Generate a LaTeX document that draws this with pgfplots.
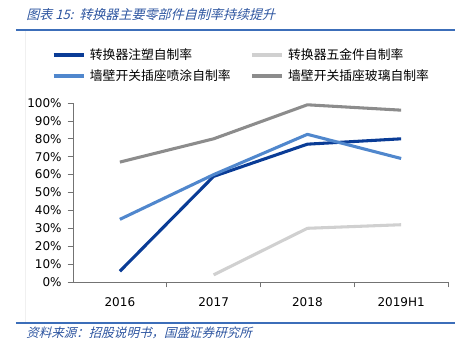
\documentclass[border=0pt]{standalone}
\usepackage{pgfplots}
\pgfplotsset{compat=1.18}
\usepackage{fontspec}
\setmainfont{DejaVu Sans}
\newfontfamily\cjk{Noto Sans CJK SC}
\newfontfamily\cjkit[FakeSlant=0.25]{Noto Sans CJK SC}
\definecolor{dblue}{RGB}{10,60,150}
\definecolor{mblue}{RGB}{80,135,205}
\definecolor{lgray}{RGB}{208,208,208}
\definecolor{mgray}{RGB}{140,140,140}
\definecolor{tblue}{RGB}{45,85,160}
\definecolor{rule}{RGB}{60,110,185}
\begin{document}
\begin{tikzpicture}
\begin{scope}[x=0.75pt,y=-0.75pt,shift={(-73,-282)}]
\path[use as bounding box] (0,0) rectangle (461,355);
\draw[rule,line width=1.5pt] (16,30) -- (455,30);
\draw[rule,line width=1.5pt] (16,323) -- (455,323);
\draw[black!6,line width=0.5pt] (25,31) -- (25,322);
\node[anchor=west,inner sep=0pt,text=tblue,font=\cjkit\fontsize{9.8pt}{11pt}\selectfont] at (26,15) {图表 15:\ \ 转换器主要零部件自制率持续提升};
\node[anchor=west,inner sep=0pt,text=tblue,font=\cjkit\fontsize{9.4pt}{11pt}\selectfont] at (26,333) {资料来源：招股说明书，国盛证券研究所};
\end{scope}
\begin{axis}[
  at={(0,0)}, anchor=south west,
  scale only axis, width=281.25pt, height=134.25pt,
  xmin=-0.5, xmax=3.5, ymin=0, ymax=100,
  axis lines*=left,
  axis line style={draw=black!55, line width=0.6pt},
  xtick={0,1,2,3}, xticklabels={2016,2017,2018,2019H1},
  minor xtick={0.5,1.5,2.5,3.5},
  major x tick style={draw=none},
  minor tick length=4pt, major tick length=4pt,
  tick align=outside,
  tick style={draw=black!55, line width=0.6pt},
  ytick={0,10,...,100},
  yticklabel={\pgfmathprintnumber{\tick}\%},
  /pgf/number format/assume math mode=true,
  tick label style={font=\fontsize{9pt}{10pt}\selectfont},
  xticklabel style={yshift=-4pt},
  yticklabel style={xshift=-1pt},
  legend columns=2,
  legend cell align=left,
  legend style={at={(-0.068,1.335)}, anchor=north west, draw=none, fill=none,
    font=\cjk\fontsize{9.6pt}{11pt}\selectfont, row sep=2pt,
    /tikz/every even column/.append style={column sep=11pt},
    nodes={inner xsep=3.5pt}},
  legend image code/.code={\draw[#1,line width=2.6pt] (0pt,0pt) -- (22.5pt,0pt);},
  every axis plot/.append style={line width=2.3pt, line join=round},
]
\addplot[dblue] coordinates {(0,6) (1,59) (2,77) (3,80)};
\addlegendentry{转换器注塑自制率}
\addplot[lgray] coordinates {(1,4) (2,30) (3,32)};
\addlegendentry{转换器五金件自制率}
\addplot[mblue] coordinates {(0,35) (1,60) (2,82.5) (3,69)};
\addlegendentry{墙壁开关插座喷涂自制率}
\addplot[mgray] coordinates {(0,67) (1,80) (2,99) (3,96)};
\addlegendentry{墙壁开关插座玻璃自制率}
\end{axis}
\end{tikzpicture}
\end{document}
